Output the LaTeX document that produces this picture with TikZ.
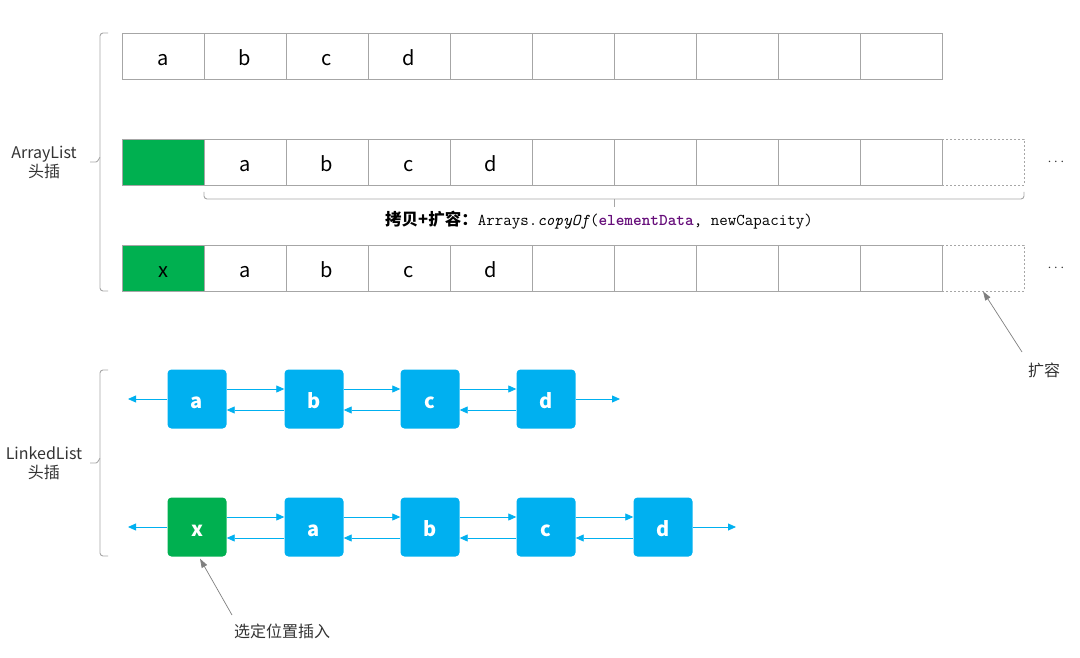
\documentclass[tikz,border=0pt]{standalone}
\usepackage{fontspec}
\setmainfont{Noto Sans CJK SC}
\usetikzlibrary{arrows.meta}
\definecolor{lblue}{HTML}{00B0F0}
\definecolor{lgreen}{HTML}{00B050}
\definecolor{lgray}{HTML}{A6A6A6}
\definecolor{dgray}{HTML}{7F7F7F}
\definecolor{kwpurple}{HTML}{660E7A}
\tikzset{
  cell/.style={draw=lgray,line width=0.8pt,minimum width=82pt,minimum height=46pt,inner sep=0pt,text height=19pt,text depth=0pt,font=\fontsize{20}{24}\selectfont},
  gcell/.style={cell,fill=lgreen},
  dcell/.style={cell,draw=lgray,dash pattern=on 2pt off 2pt},
  lnode/.style={rounded corners=4pt,minimum width=59pt,minimum height=59pt,inner sep=0pt,text height=19pt,text depth=0pt,fill=lblue,text=white,font=\fontsize{20}{24}\selectfont\bfseries},
  gnode/.style={lnode,fill=lgreen},
  link/.style={draw=lblue,line width=0.8pt,-{Triangle[length=8pt,width=7pt]}},
  note/.style={draw=dgray,line width=0.7pt,-{Triangle[length=9pt,width=6pt]}},
  brk/.style={draw=lgray,line width=0.9pt,rounded corners=3pt},
  label/.style={align=center,font=\fontsize{16}{19}\selectfont,text=black!80},
  dots/.style={font=\fontsize{14}{18}\selectfont,text=black!80}
}
\begin{document}
\begin{tikzpicture}[x=1pt,y=-1pt]
\useasboundingbox (0,0) rectangle (1080,658);
% row 1
\foreach \t [count=\i from 0] in {a,b,c,d,,,,,,}
  \node[cell] (t\i) at ({163+82*\i},56) {\t};
% row 2
\node[gcell] (m0) at (163,162) {};
\foreach \t [count=\i from 1] in {a,b,c,d,,,,,}
  \node[cell] (m\i) at ({163+82*\i},162) {\t};
\node[dcell] (m10) at (983,162) {};
\node[dots] (mdots) at (1056,162) {$\cdots$};
% row 3
\node[gcell] (b0) at (163,268) {x};
\foreach \t [count=\i from 1] in {a,b,c,d,,,,,}
  \node[cell] (b\i) at ({163+82*\i},268) {\t};
\node[dcell] (b10) at (983,268) {};
\node[dots] (bdots) at (1056,268) {$\cdots$};
% ArrayList bracket
\draw[brk] (108,33) -- (100,33) -- (100,291) -- (108,291);
\draw[draw=lgray,line width=0.9pt] (100,158) to[out=90,in=0] (96,162) -- (90,162);
\node[label] (al) at (44,162) {ArrayList\\头插};
% copy bracket
\draw[brk] (204,192) -- (204,199) -- (1024,199) -- (1024,192);
\draw[draw=lgray,line width=0.9pt] (614,199) -- (614,207);
\node[font=\fontsize{16.5}{19}\selectfont] (copy) at (599,220)
  {\textbf{拷贝+扩容：}\ttfamily Arrays.\textit{copyOf}(\textcolor{kwpurple}{\textbf{elementData}}, newCapacity)};
\node[label] (kr) at (1044,370) {扩容};
\coordinate (kr0) at (1022,352);
\draw[note] (kr0) -- (b10.south);
% linked list 1
\node[lnode] (la) at (197,399) {a};
\node[lnode] (lb) at (314,399) {b};
\node[lnode] (lc) at (430,399) {c};
\node[lnode] (ld) at (546,399) {d};
\coordinate (lL) at (128,399);
\coordinate (lR) at (620,399);
\draw[link] (la.west) -- (lL);
\draw[link] (ld.east) -- (lR);
\foreach \p/\q in {la/lb,lb/lc,lc/ld}{
  \draw[link] ([yshift=10pt]\p.east) -- ([yshift=10pt]\q.west);
  \draw[link] ([yshift=-11pt]\q.west) -- ([yshift=-11pt]\p.east);
}
% linked list 2
\node[gnode] (nx) at (197,527) {x};
\node[lnode] (na) at (314,527) {a};
\node[lnode] (nb) at (430,527) {b};
\node[lnode] (nc) at (546,527) {c};
\node[lnode] (nd) at (663,527) {d};
\coordinate (nL) at (128,527);
\coordinate (nR) at (736,527);
\draw[link] (nx.west) -- (nL);
\draw[link] (nd.east) -- (nR);
\foreach \p/\q in {nx/na,na/nb,nb/nc,nc/nd}{
  \draw[link] ([yshift=10pt]\p.east) -- ([yshift=10pt]\q.west);
  \draw[link] ([yshift=-11pt]\q.west) -- ([yshift=-11pt]\p.east);
}
% LinkedList bracket
\draw[brk] (108,370) -- (100,370) -- (100,556) -- (108,556);
\draw[draw=lgray,line width=0.9pt] (100,459) to[out=90,in=0] (96,463) -- (90,463);
\node[label] (ll) at (44,463) {LinkedList\\头插};
\node[label] (sel) at (282,631) {选定位置插入};
\coordinate (sel0) at (232,615);
\draw[note] (sel0) -- ([xshift=3pt,yshift=-2pt]nx.south);
\end{tikzpicture}
\end{document}
